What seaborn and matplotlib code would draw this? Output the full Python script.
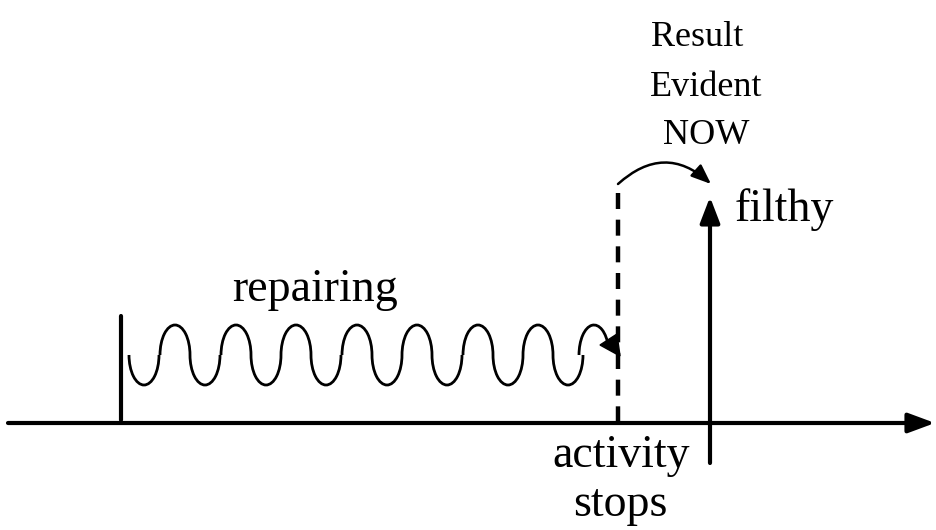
"""
Diagram: repairing activity stops, result evident now (filthy).
"""

import matplotlib.pyplot as plt
import seaborn as sns
from matplotlib.patches import Arc, Polygon

sns.set_theme(style="white")
plt.rcParams["font.family"] = ["Liberation Serif", "DejaVu Serif"]

# --- diagram data (pixel coordinates, y grows downwards) ---
time_axis_x = [8, 935]
time_axis_y = 423
start_bar_x = 121
start_bar_y = [316, 420]

wave_mid_y = 355
wave_amp = 30
wave_half_width = 15
wave_troughs_x = [144, 205, 266, 326, 387, 447, 508, 568]
wave_peaks_x = [175, 236, 296, 357, 417, 478, 538, 594]

stop_x = 618
stop_y = [193, 421]
stop_arrow_tip = (600, 345)

now_x = 710
now_y = [463, 197]
jump_from = (618, 184)
jump_to = (711, 184)

labels = [
    ("Result", 697, 38, 26),
    ("Evident", 706, 87, 26),
    ("NOW", 706, 135, 26),
    ("filthy", 784, 210, 33),
    ("repairing", 315, 290, 33),
    ("activity", 621, 456, 33),
    ("stops", 620, 505, 33),
]

fig = plt.figure(figsize=(9.36, 5.30), dpi=100)
ax = fig.add_axes([0, 0, 1, 1])
ax.set_xlim(0, 936)
ax.set_ylim(530, 0)
ax.axis("off")

# time axis with arrow
ax.annotate("", xy=(time_axis_x[1], time_axis_y), xytext=(time_axis_x[0], time_axis_y),
            arrowprops=dict(arrowstyle="-|>,head_length=1.35,head_width=0.5",
                            color="black", lw=3, shrinkA=0, shrinkB=0))

# start bar
ax.plot([start_bar_x, start_bar_x], start_bar_y, color="black", lw=3)

# wavy "repairing" line: half-ellipse humps
for tx in wave_troughs_x:
    ax.add_patch(Arc((tx, wave_mid_y), 2 * wave_half_width, 2 * wave_amp,
                     theta1=0, theta2=180, color="black", lw=2))
for i, px in enumerate(wave_peaks_x):
    t2 = 330 if i == len(wave_peaks_x) - 1 else 360
    ax.add_patch(Arc((px, wave_mid_y), 2 * wave_half_width, 2 * wave_amp,
                     theta1=180, theta2=t2, color="black", lw=2))

# activity stops dashed line
ax.plot([stop_x, stop_x], stop_y, color="black", lw=3.2, dashes=(3.6, 2.4))
ax.add_patch(Polygon([stop_arrow_tip, (617, 334), (620, 356)], closed=True,
                     color="black"))

# now arrow
ax.annotate("", xy=(now_x, now_y[1]), xytext=(now_x, now_y[0]),
            arrowprops=dict(arrowstyle="-|>,head_length=1.3,head_width=0.5",
                            color="black", lw=3, shrinkA=0, shrinkB=0))

# curved jump arrow
ax.annotate("", xy=jump_to, xytext=jump_from,
            arrowprops=dict(arrowstyle="-|>,head_length=1.0,head_width=0.4",
                            color="black", lw=1.8, shrinkA=0, shrinkB=0,
                            connectionstyle="arc3,rad=-0.45"))

for text, x, y, size in labels:
    ax.text(x, y, text, ha="center", va="center", fontsize=size, color="black")

fig.savefig("out.png", dpi=100)
